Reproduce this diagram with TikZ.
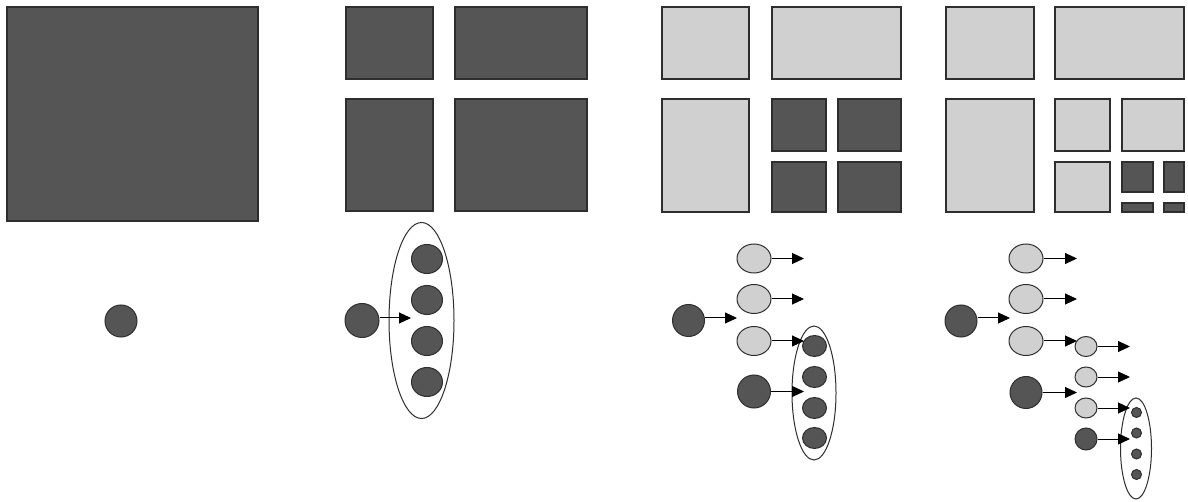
\documentclass[tikz,border=0pt]{standalone}
\usetikzlibrary{shapes.geometric,arrows.meta}
\definecolor{dkfill}{HTML}{555555}
\definecolor{ltfill}{HTML}{D0D0D0}
\definecolor{edgec}{HTML}{2E2E2E}
\tikzset{
 dkbox/.style={fill=dkfill,draw=edgec,line width=1.2pt},
 ltbox/.style={fill=ltfill,draw=edgec,line width=1.2pt},
 dkdot/.style={circle,fill=dkfill,draw=edgec,line width=1pt,inner sep=0pt,minimum size=#1},
 ltdot/.style 2 args={ellipse,fill=ltfill,draw=edgec,line width=1pt,inner sep=0pt,minimum width=#1,minimum height=#2},
 dkell/.style 2 args={ellipse,fill=dkfill,draw=edgec,line width=1pt,inner sep=0pt,minimum width=#1,minimum height=#2},
 grp/.style 2 args={ellipse,draw=edgec,line width=1pt,inner sep=0pt,minimum width=#1,minimum height=#2},
 arr/.style={-{Triangle[length=12pt,width=11pt]},line width=1pt,black},
}
\begin{document}
\begin{tikzpicture}[x=1pt,y=-1pt]
\useasboundingbox[fill=white] (0,0) rectangle (1188,502);
% ---------- panel 1
\draw[dkbox] (7,7) rectangle (258,221);
\node[dkdot=32pt] (p1) at (121,321) {};
% ---------- panel 2
\draw[dkbox] (346,7) rectangle (433,79);
\draw[dkbox] (455,7) rectangle (587,79);
\draw[dkbox] (346,99) rectangle (433,211);
\draw[dkbox] (455,99) rectangle (587,211);
\node[grp={65pt}{196pt}] (g2) at (421.5,320.5) {};
\node[dkdot=34pt] (a0) at (362,320.5) {};
\foreach \y [count=\i] in {259,300,341,382}
  \node[dkell={31pt}{29pt}] (a\i) at (427,\y) {};
\coordinate (ae) at (411,318);
\draw[arr] (a0.east |- ae) -- (ae);
% ---------- panel 3
\draw[ltbox] (662,7) rectangle (749,79);
\draw[ltbox] (772,7) rectangle (901,79);
\draw[ltbox] (662,99) rectangle (749,212);
\draw[dkbox] (772,99) rectangle (826,151);
\draw[dkbox] (838,99) rectangle (901,151);
\draw[dkbox] (772,162) rectangle (826,212);
\draw[dkbox] (838,162) rectangle (901,212);
\node[dkdot=32pt] (b0) at (688.5,320.5) {};
\coordinate (be) at (737,318);
\draw[arr] (b0.east |- be) -- (be);
\foreach \y [count=\i] in {258.5,299,341}
  \node[ltdot={34pt}{29pt}] (b\i) at (754,\y) {};
\node[dkdot=33pt] (b4) at (754,391.5) {};
\node[grp={44pt}{134pt}] (g3) at (814,393) {};
\foreach \y [count=\i] in {346,377,408,438}
  \node[dkell={24pt}{21pt}] (bb\i) at (814.5,\y) {};
\foreach \i in {1,2,3,4} {
  \coordinate (bt\i) at (804,0 |- b\i.center);
  \draw[arr] (b\i.east) -- (bt\i);
}
% ---------- panel 4
\draw[ltbox] (946,7) rectangle (1034,79);
\draw[ltbox] (1055,7) rectangle (1184,79);
\draw[ltbox] (946,99) rectangle (1034,212);
\draw[ltbox] (1055,99) rectangle (1110,151);
\draw[ltbox] (1122,99) rectangle (1184,151);
\draw[ltbox] (1055,162) rectangle (1110,212);
\draw[dkbox] (1122,162) rectangle (1153,192);
\draw[dkbox] (1164,162) rectangle (1184,192);
\draw[dkbox] (1122,203) rectangle (1153,212);
\draw[dkbox] (1164,203) rectangle (1184,212);
\node[dkdot=32pt] (c0) at (961,321) {};
\coordinate (ce) at (1010,318);
\draw[arr] (c0.east |- ce) -- (ce);
\foreach \y [count=\i] in {258.5,299,341}
  \node[ltdot={34pt}{29pt}] (c\i) at (1026,\y) {};
\node[dkdot=32pt] (c4) at (1026,392.5) {};
\foreach \i in {1,2,3,4} {
  \coordinate (ct\i) at (1077,0 |- c\i.center);
  \draw[arr] (c\i.east) -- (ct\i);
}
\foreach \y [count=\i] in {346.5,377,408}
  \node[ltdot={22pt}{20pt}] (d\i) at (1086,\y) {};
\node[dkdot=22pt] (d4) at (1086,439) {};
\node[grp={31pt}{101pt}] (g4) at (1136,448.5) {};
\foreach \y [count=\i] in {412.5,433,454,474.5}
  \node[dkdot=10pt] (dd\i) at (1136.5,\y) {};
\foreach \i in {1,2,3,4} {
  \coordinate (dt\i) at (1130,0 |- d\i.center);
  \draw[arr] (d\i.east) -- (dt\i);
}
\end{tikzpicture}
\end{document}
